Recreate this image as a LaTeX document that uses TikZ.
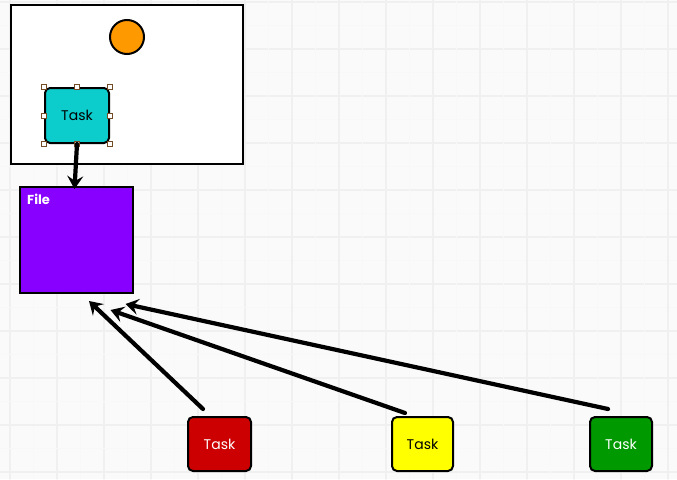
\documentclass[tikz,border=0pt]{standalone}
\usepackage{fontspec}
\setmainfont{Poppins}
\usetikzlibrary{arrows.meta}

\begin{document}
\begin{tikzpicture} [x=1pt,y=-1pt,line cap=round,
% Styles
minor grid/.style={line width=0.8pt,gridcolor!45},
major grid/.style={line width=1.4pt,gridcolor},
frame/.style={draw=black,line width=2pt,fill=white,minimum width=232pt,minimum height=159pt,inner sep=0pt},
task/.style={draw=black,line width=2pt,rounded corners=5pt,minimum width=62pt,minimum height=54pt,inner sep=0pt,font=\fontsize{14}{16}\selectfont},
handle/.style={draw=brown!60!black,fill=white,line width=0.6pt,minimum size=5pt,inner sep=0pt},
link/.style={line width=4.2pt,-{Stealth[length=13pt,width=16pt,inset=5pt]}}]
% Colors
\colorlet{gridcolor}{black!6}
\definecolor{bgcolor}{RGB}{250,250,250}
\definecolor{tealcolor}{RGB}{12,204,204}
\definecolor{filecolor}{RGB}{136,0,255}
\definecolor{orangecolor}{RGB}{255,153,0}
\definecolor{redcolor}{RGB}{204,0,0}
\definecolor{yellowcolor}{RGB}{255,255,0}
\definecolor{greencolor}{RGB}{0,153,0}
\useasboundingbox (0,0) rectangle (677,479);
% Background grid
\begin{scope}
\clip (0,0) rectangle (677,479);
\fill[bgcolor] (0,0) rectangle (677,479);
\foreach \k in {0,...,14} {
    \draw[minor grid] (33.5+47*\k,0) -- (33.5+47*\k,479);
    \draw[minor grid] (0,25.5+47*\k) -- (677,25.5+47*\k);
    \draw[major grid] (10+47*\k,0) -- (10+47*\k,479);
    \draw[major grid] (0,2+47*\k) -- (677,2+47*\k);
}
\end{scope}
% Nodes
\node[frame] (frame) at (127,84.5) {};
\node[circle,draw=black,line width=2pt,fill=orangecolor,minimum size=34pt,inner sep=0pt] (sun) at (127,37) {};
\node[task,fill=tealcolor,minimum width=64pt,minimum height=55pt] (task) at (77,115.5) {Task};
\foreach \a [count=\i] in {north west,north,north east,west,east,south west,south,south east}
    \node[handle] (h\i) at (task.\a) {};
\node[draw=black,line width=2pt,fill=filecolor,minimum width=113pt,minimum height=106pt,inner sep=0pt] (file) at (76.5,240) {};
\node[anchor=north west,text=white,inner sep=0pt,font=\fontsize{13}{15}\selectfont\bfseries] (filelabel) at ([xshift=8pt,yshift=-8pt]file.north west) {File};
\node[task,fill=redcolor,text=white,minimum width=63pt] (red) at (219.5,444) {Task};
\node[task,fill=yellowcolor,minimum width=61pt] (yellow) at (422.5,444) {Task};
\node[task,fill=greencolor,text=white] (green) at (621,444) {Task};
% Connectors
\draw[link] (task.south) -- ([xshift=-2pt,yshift=-3pt]file.north);
\draw[link] ([xshift=-16.5pt,yshift=7pt]red.north) -- ([xshift=12.5pt,yshift=-7pt]file.south);
\draw[link] ([xshift=-17.5pt,yshift=3pt]yellow.north) -- ([xshift=34pt,yshift=-16pt]file.south);
\draw[link] ([xshift=-13pt,yshift=7pt]green.north) -- ([xshift=49pt,yshift=-10pt]file.south);
\end{tikzpicture}
\end{document}
